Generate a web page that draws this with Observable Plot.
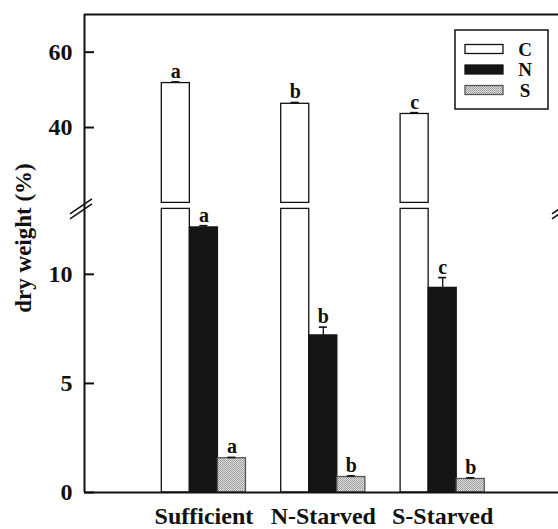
<!DOCTYPE html>
<html><head><meta charset="utf-8">
<script src="https://cdn.jsdelivr.net/npm/d3@7"></script>
<script src="https://cdn.jsdelivr.net/npm/@observablehq/plot@0.6"></script>
<style>body{margin:0;background:#fff;} #chart svg{display:block;overflow:hidden;}</style>
</head><body><div id="chart"></div>
<script>
// ---- data ----
const groups = ["Sufficient", "N-Starved", "S-Starved"];
const seriesNames = ["C", "N", "S"];
const cValues = [51.8, 46.3, 43.6];
const cErrors = [0.3, 0.35, 0.35];
const cLetters = ["a", "b", "c"];
const nValues = [12.15, 7.2, 9.38];
const nErrors = [0.08, 0.38, 0.47];
const nLetters = ["a", "b", "c"];
const sValues = [1.57, 0.71, 0.62];
const sErrors = [0.04, 0.05, 0.05];
const sLetters = ["a", "b", "b"];
const yTickValues = [0, 5, 10, 40, 60];
const yLabel = "dry weight (%)";

// ---- broken axis mapping ----
const LOWER_MAX = 13, UPPER_MIN = 20, UPPER_MAX = 70;
const LOWER_K = 21.8, GAP = 6, UPPER_K = 3.765;
function pos(v) {
  return v <= LOWER_MAX ? v * LOWER_K : LOWER_MAX * LOWER_K + GAP + (v - UPPER_MIN) * UPPER_K;
}
const TOP = pos(UPPER_MAX);

const seriesDefs = [
  {key: "C", values: cValues, errors: cErrors, letters: cLetters},
  {key: "N", values: nValues, errors: nErrors, letters: nLetters},
  {key: "S", values: sValues, errors: sErrors, letters: sLetters}
];
const bars = [];
seriesDefs.forEach((s, si) => groups.forEach((g, gi) => bars.push({
  group: g, gi, series: s.key, si, value: s.values[gi], err: s.errors[gi], letter: s.letters[gi]
})));
const BW = 0.235, CAP = 0.034;
const cx = d => d.gi + 1 + (d.si - 1) * BW;
const segments = bars.flatMap(d => d.value > LOWER_MAX
  ? [{...d, lo: 0, hi: LOWER_MAX}, {...d, lo: UPPER_MIN, hi: d.value}]
  : [{...d, lo: 0, hi: d.value}]);
const tickLabel = new Map(yTickValues.map(v => [pos(v), String(v)]));

const style = {C: {fill: "#ffffff", stroke: "#111"}, N: {fill: "#151515", stroke: "#151515"}, S: {fill: "url(#stipple)", stroke: "#555"}};
const barMark = k => Plot.rect(segments.filter(d => d.series === k), {
  x1: d => cx(d) - BW / 2, x2: d => cx(d) + BW / 2,
  y1: d => pos(d.lo), y2: d => pos(d.hi),
  fill: style[k].fill, stroke: style[k].stroke, strokeWidth: 1.3
});

const chart = Plot.plot({
  width: 558, height: 529,
  marginTop: 14, marginBottom: 37, marginLeft: 84, marginRight: 0,
  style: {fontFamily: "'Liberation Serif', 'Times New Roman', serif", fontWeight: "bold", color: "#111", background: "#fff"},
  x: {domain: [0, 3.97]},
  y: {domain: [0, TOP]},
  marks: [
    ...seriesNames.map(barMark),
    Plot.ruleX(bars, {x: cx, y1: d => pos(d.value), y2: d => pos(d.value + d.err), stroke: "#111", strokeWidth: 1.3}),
    Plot.ruleY(bars, {y: d => pos(d.value + d.err), x1: d => cx(d) - CAP, x2: d => cx(d) + CAP, stroke: "#111", strokeWidth: 1.6}),
    Plot.text(bars, {x: cx, y: d => pos(d.value + d.err), text: "letter", dy: -4, lineAnchor: "bottom", fontSize: 20, fontWeight: "bold"}),
    Plot.axisY({ticks: yTickValues.map(pos), tickFormat: v => tickLabel.get(v), tickSize: -10, tickPadding: 22, fontSize: 24, strokeWidth: 2, label: null}),
    Plot.axisX({ticks: [1, 2, 3], tickFormat: v => groups[v - 1], tickSize: 0, tickPadding: 14, fontSize: 24, label: null}),
    Plot.ruleX([0], {strokeWidth: 2, stroke: "#111"}),
    Plot.ruleY([0], {strokeWidth: 2, stroke: "#111"}),
    Plot.ruleY([TOP], {strokeWidth: 2, stroke: "#111"})
  ]
});
document.getElementById("chart").appendChild(chart);

// ---- decorations ----
const svg = d3.select(chart);
const defs = svg.insert("defs", ":first-child");
const pat = defs.append("pattern").attr("id", "stipple").attr("width", 2).attr("height", 2).attr("patternUnits", "userSpaceOnUse");
pat.append("rect").attr("width", 2).attr("height", 2).attr("fill", "#dcdcdc");
pat.append("rect").attr("width", 1).attr("height", 1).attr("fill", "#9a9a9a");
pat.append("rect").attr("x", 1).attr("y", 1).attr("width", 1).attr("height", 1).attr("fill", "#a8a8a8");

const X = chart.scale("x"), Y = chart.scale("y");
const font = "'Liberation Serif', 'Times New Roman', serif";

// y axis label
svg.append("text")
  .attr("transform", `translate(31,${(Y.apply(0) + Y.apply(TOP)) / 2 - 15}) rotate(-90)`)
  .attr("text-anchor", "middle").attr("font-family", font).attr("font-weight", "bold")
  .attr("font-size", 23).attr("fill", "#111").text(yLabel);

// break marks
const yb = Y.apply(pos(LOWER_MAX) + GAP / 2) + 3;
function breakMark(x) {
  const g = svg.append("g").attr("stroke", "#111").attr("stroke-width", 1.6).attr("fill", "none");
  [-2.5, 2.5].forEach(o => g.append("line")
    .attr("x1", x - 12).attr("y1", yb + 8 + o).attr("x2", x + 10).attr("y2", yb - 7 + o));
}
breakMark(X.apply(0) - 2);
breakMark(X.apply(0) + 480);

// legend
const lg = svg.append("g");
lg.append("rect").attr("x", 455).attr("y", 30).attr("width", 93).attr("height", 79)
  .attr("fill", "#fff").attr("stroke", "#111").attr("stroke-width", 1.5);
seriesNames.forEach((k, i) => {
  const yc = 49 + i * 20.5;
  lg.append("rect").attr("x", 465).attr("y", yc - 4.5).attr("width", 38).attr("height", 9)
    .attr("fill", style[k].fill).attr("stroke", style[k].stroke).attr("stroke-width", 1.3);
  lg.append("text").attr("x", 525).attr("y", yc).attr("dy", "0.35em").attr("text-anchor", "middle")
    .attr("font-family", font).attr("font-weight", "bold").attr("font-size", 19).attr("fill", "#111").text(k);
});
</script>
</body></html>
